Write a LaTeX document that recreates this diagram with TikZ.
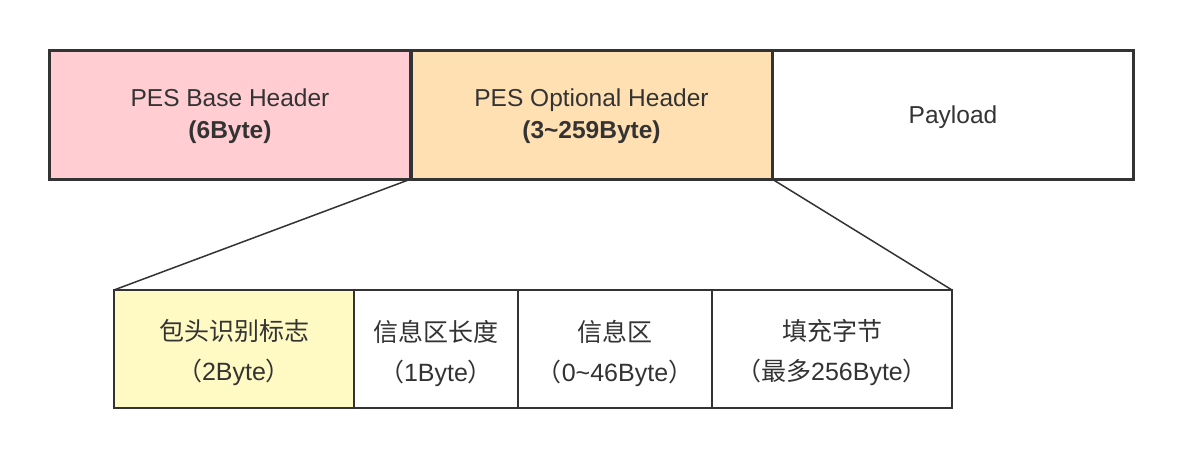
\documentclass[tikz,border=0pt]{standalone}
\usepackage{fontspec}
\setmainfont{Liberation Sans}
\newfontfamily\cjk{Noto Sans CJK SC}
\begin{document}
\begin{tikzpicture}[x=1pt,y=-1pt,
  frame/.style={draw=edgec, rectangle, inner sep=0pt, outer sep=0pt},
  topbox/.style={frame, line width=3pt, minimum width=361pt, minimum height=129pt},
  botbox/.style={frame, line width=2pt, minimum height=118pt},
  toptext/.style={align=center, text=textc, inner sep=0pt, font=\fontsize{24.5}{32}\selectfont},
  bottext/.style={align=center, text=textc, inner sep=0pt, font=\fontsize{25}{40}\selectfont},
  link/.style={draw=edgec, line width=1.5pt}
]
\definecolor{edgec}{HTML}{333333}
\definecolor{textc}{HTML}{333333}
\definecolor{pinkc}{HTML}{FFCDD2}
\definecolor{peachc}{HTML}{FFE0B2}
\definecolor{yellowc}{HTML}{FFF9C4}
\useasboundingbox (0,0) rectangle (1184,458);
\node[topbox, fill=pinkc] (base) at (230,114.5) {};
\node[topbox, fill=peachc] (opt) at (591.5,114.5) {};
\node[topbox, fill=white] (pay) at (953,114.5) {};
\node[botbox, fill=yellowc, minimum width=240pt] (f1) at (234,349) {};
\node[botbox, fill=white, minimum width=164pt] (f2) at (436,349) {};
\node[botbox, fill=white, minimum width=194pt] (f3) at (615,349) {};
\node[botbox, fill=white, minimum width=240pt] (f4) at (832,349) {};
\node[toptext] (baset) at ([yshift=-2pt]base.center) {PES Base Header\\\textbf{(6Byte)}};
\node[toptext] (optt) at ([yshift=-2pt]opt.center) {PES Optional Header\\\textbf{(3\textasciitilde259Byte)}};
\node[toptext] (payt) at ([yshift=-3pt]pay.center) {Payload};
\node[bottext] (f1t) at ([yshift=-4pt]f1.center) {{\cjk 包头识别标志}\\{\cjk （}2Byte{\cjk ）}};
\node[bottext] (f2t) at ([yshift=-4pt]f2.center) {{\cjk 信息区长度}\\{\cjk （}1Byte{\cjk ）}};
\node[bottext] (f3t) at ([yshift=-4pt]f3.center) {{\cjk 信息区}\\{\cjk （}0\textasciitilde46Byte{\cjk ）}};
\node[bottext] (f4t) at ([yshift=-4pt]f4.center) {{\cjk 填充字节}\\{\cjk （最多}256Byte{\cjk ）}};
\draw[link] (opt.south west) -- (f1.north west);
\draw[link] (opt.south east) -- (f4.north east);
\end{tikzpicture}
\end{document}
